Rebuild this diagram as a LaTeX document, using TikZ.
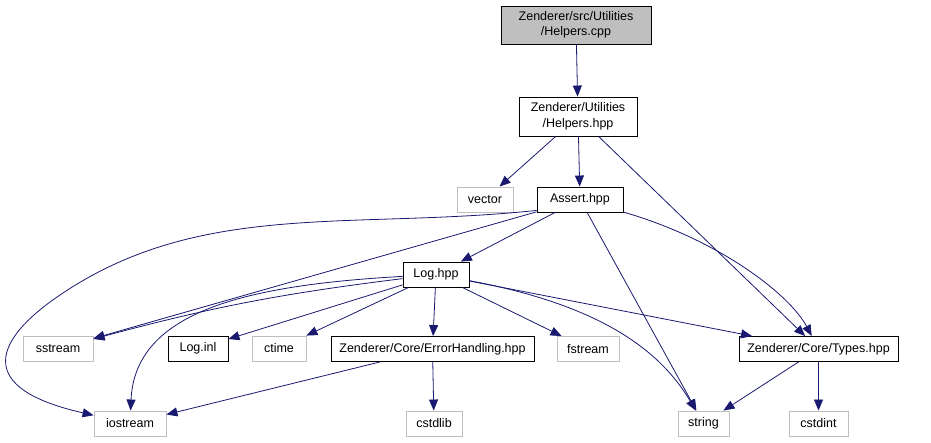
\documentclass[tikz,border=0pt]{standalone}
\usepackage{fontspec}
\setmainfont{Liberation Sans}
\definecolor{incblue}{HTML}{191970}
\definecolor{grey75}{HTML}{BFBFBF}
\usepackage{tikz}
\usetikzlibrary{arrows.meta}

\begin{document}
\begin{tikzpicture}[x=1pt, y=-1pt,
  every node/.style={font=\fontsize{12.5}{15.5}\selectfont, inner sep=0pt},
  src/.style={draw=black, fill=grey75, line width=0.9pt, align=center,
              minimum height=38pt},
  hdr/.style={draw=black, fill=white, line width=0.9pt, align=center,
              minimum height=25pt},
  sys/.style={draw=grey75, fill=white, line width=0.9pt,
              minimum height=25pt},
  inc/.style={draw=incblue, line width=0.8pt,
              -{Triangle[length=11pt,width=9pt]}}
]
\useasboundingbox (0,0) rectangle (931,443);

%% Files of the project
\node[src, minimum width=150pt] (cpp)    at (576,25)    {Zenderer/src/Utilities\\/Helpers.cpp};
\node[hdr, minimum width=118pt, minimum height=39pt] (helpers) at (578,116.5) {Zenderer/Utilities\\/Helpers.hpp};
\node[hdr, minimum width=86pt]  (assert) at (580,199.5) {Assert.hpp};
\node[hdr, minimum width=66pt]  (log)    at (436,274.5) {Log.hpp};
\node[hdr, minimum width=60pt]  (loginl) at (198,348.5) {Log.inl};
\node[hdr, minimum width=203pt] (errh)   at (432.5,349) {Zenderer/Core/ErrorHandling.hpp};
\node[hdr, minimum width=159pt] (types)  at (818.5,349) {Zenderer/Core/Types.hpp};

%% System headers
\node[sys, minimum width=56pt] (vector)  at (485,199.5) {vector};
\node[sys, minimum width=70pt] (sstream) at (58,348.5)  {sstream};
\node[sys, minimum width=54pt] (ctime)   at (279,348.5) {ctime};
\node[sys, minimum width=62pt] (fstream) at (588,349)   {fstream};
\node[sys, minimum width=72pt] (iostream) at (130,423.5) {iostream};
\node[sys, minimum width=56pt] (cstdlib) at (434,423.5) {cstdlib};
\node[sys, minimum width=51pt] (string)  at (703.5,423.5) {string};
\node[sys, minimum width=59pt] (cstdint) at (818.5,423.5) {cstdint};

%% Helpers.cpp / Helpers.hpp
\draw[inc] (cpp) -- (helpers);
\foreach \f in {vector,assert,types}
  \draw[inc] (helpers) -- (\f);

%% Assert.hpp
\foreach \f in {log,sstream,string}
  \draw[inc] (assert) -- (\f);
\draw[inc] (assert) .. controls (720,240) and (790,295) .. (types);
\draw[inc] ([yshift=2pt]assert.south west) .. controls (350,230) and (200,200) .. (60,295)
  .. controls (8,330) and (-40,385) .. (iostream);

%% Log.hpp
\foreach \f in {loginl,ctime,errh,fstream,types}
  \draw[inc] (log) -- (\f);
\draw[inc] (log) to[bend right=4] (sstream);
\draw[inc] (log) .. controls (250,285) and (135,310) .. (iostream);
\draw[inc] (log) .. controls (600,305) and (660,350) .. (string);

%% ErrorHandling.hpp and Types.hpp
\draw[inc] (errh) -- (iostream);
\draw[inc] (errh) -- (cstdlib);
\draw[inc] (types) -- (string);
\draw[inc] (types) -- (cstdint);

\end{tikzpicture}
\end{document}
